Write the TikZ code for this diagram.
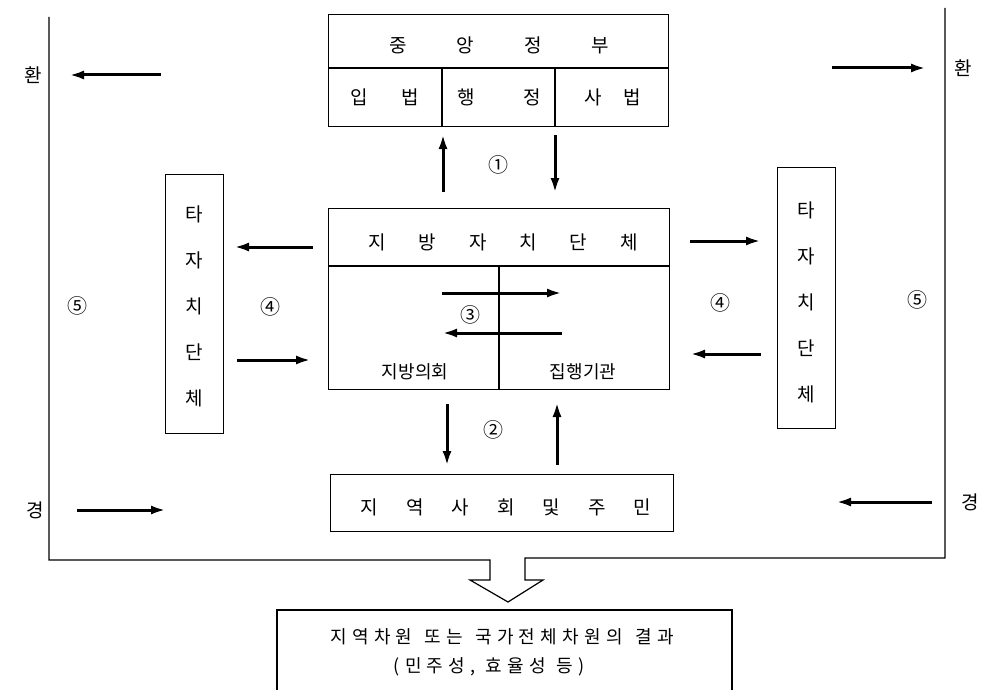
\documentclass[tikz,border=0pt]{standalone}
\usepackage{fontspec}
\setmainfont{Noto Sans CJK KR}
\usetikzlibrary{arrows.meta}
\begin{document}
\begin{tikzpicture}[x=1pt,y=-1pt,
  box/.style={draw,line width=1.2pt,inner sep=0pt,anchor=north west},
  arr/.style={line width=3pt,-{Latex[length=15pt,width=9pt]}},
  lbl/.style={font=\fontsize{19}{22}\selectfont,inner sep=0pt},
  small/.style={font=\fontsize{18}{21}\selectfont,inner sep=0pt},
  vert/.style={font=\fontsize{19}{46}\selectfont,inner sep=0pt,align=center},
  num/.style={font=\fontsize{20}{22}\selectfont,inner sep=0pt},
  frame/.style={line width=1.2pt}]
\useasboundingbox (0,0) rectangle (992,690);

% central government
\node[box,minimum width=340pt,minimum height=112pt] (cg) at (328,14) {};
\draw[frame] (328,68) -- (668,68);
\draw[frame] (442,68) -- (442,126);
\draw[frame] (555,68) -- (555,126);
\node[lbl] (cgt) at (499,45) {중\hspace{50pt}앙\hspace{50pt}정\hspace{50pt}부};
\node[lbl] (leg) at (385,97) {입\hspace{34pt}법};
\node[lbl] (adm) at (499,97) {행\hspace{48pt}정};
\node[lbl] (jud) at (613,97) {사\hspace{22pt}법};

% local government
\node[box,minimum width=341pt,minimum height=181pt] (lg) at (328,208) {};
\draw[frame] (328,266) -- (669,266);
\draw[frame] (499,266) -- (499,389);
\node[lbl] (lgt) at (503,242) {지\hspace{33pt}방\hspace{33pt}자\hspace{33pt}치\hspace{33pt}단\hspace{33pt}체};
\node[small] (council) at (415,372) {지방의회};
\node[small] (exec) at (583,372) {집행기관};

% community
\node[box,minimum width=343pt,minimum height=57pt] (com) at (330,474) {};
\node[lbl] (comt) at (506,507) {지\hspace{28pt}역\hspace{28pt}사\hspace{28pt}회\hspace{28pt}및\hspace{28pt}주\hspace{28pt}민};

% other local governments
\node[box,minimum width=58pt,minimum height=259pt] (ol) at (165,174) {};
\node[vert] (olt) at (194,306) {타\\자\\치\\단\\체};
\node[box,minimum width=58pt,minimum height=261pt] (or) at (777,167) {};
\node[vert] (ort) at (806,302) {타\\자\\치\\단\\체};

% result box
\node[lbl,font=\fontsize{18}{22}\selectfont] (res1) at (502,637)
  {\addfontfeature{LetterSpace=30}지역차원\hspace{12pt}또는\hspace{12pt}국가전체차원의\hspace{12pt}결과};
\node[lbl,font=\fontsize{18}{22}\selectfont] (res2) at (489,667)
  {\addfontfeature{LetterSpace=30}(민주성,\hspace{10pt}효율성\hspace{10pt}등)};
\draw[frame] (277,690) -- (277,610) -- (732,610) -- (732,690);

% environment frame with hollow arrow
\draw[frame] (49,17) -- (49,560) -- (490,560) -- (490,580) -- (470,580)
  -- (508,602) -- (543,580) -- (525,580) -- (525,558) -- (945,558) -- (945,8);
\node[lbl] (hl) at (33,75) {환};
\node[lbl] (gl) at (35,510) {경};
\node[lbl] (hr) at (963,68) {환};
\node[lbl] (gr) at (970,502) {경};

% coordinates for connectors
\coordinate (a1s) at (443,192); \coordinate (a1e) at (443,134);
\coordinate (b1s) at (555,135); \coordinate (b1e) at (555,193);
\coordinate (a2s) at (447,404); \coordinate (a2e) at (447,466);
\coordinate (b2s) at (557,465); \coordinate (b2e) at (557,402);
\coordinate (a3s) at (442,293); \coordinate (a3e) at (562,293);
\coordinate (b3s) at (562,333); \coordinate (b3e) at (442,333);
\coordinate (a4s) at (313,247); \coordinate (a4e) at (234,247);
\coordinate (b4s) at (237,360); \coordinate (b4e) at (311,360);
\coordinate (c4s) at (690,241); \coordinate (c4e) at (761,241);
\coordinate (d4s) at (761,354); \coordinate (d4e) at (690,354);
\coordinate (e1s) at (161,75); \coordinate (e1e) at (69,75);
\coordinate (e2s) at (832,68); \coordinate (e2e) at (926,68);
\coordinate (e3s) at (77,510); \coordinate (e3e) at (166,510);
\coordinate (e4s) at (932,502); \coordinate (e4e) at (836,502);

\foreach \p in {a1,b1,a2,b2,a3,b3,a4,b4,c4,d4,e1,e2,e3,e4}
  \draw[arr] (\p s) -- (\p e);

% numbers
\node[num] (n1) at (498,165) {①};
\node[num] (n2) at (493,430) {②};
\node[num] (n3) at (470,315) {③};
\node[num] (n4l) at (270,307) {④};
\node[num] (n4r) at (720,303) {④};
\node[num] (n5l) at (77,306) {⑤};
\node[num] (n5r) at (917,300) {⑤};
\end{tikzpicture}
\end{document}
